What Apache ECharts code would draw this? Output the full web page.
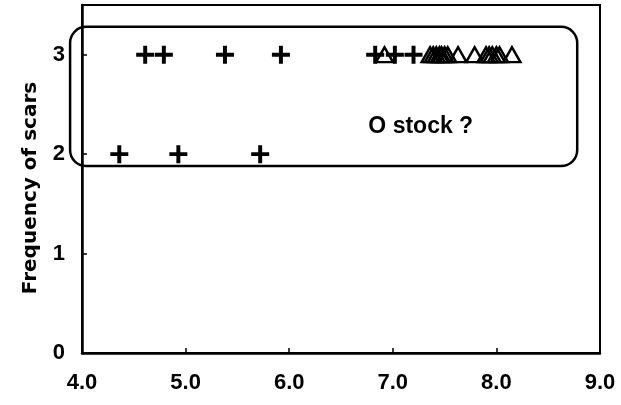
<!DOCTYPE html>
<html>
<head>
<meta charset="utf-8">
<script src="https://cdn.jsdelivr.net/npm/echarts@6/dist/echarts.min.js"></script>
<style>html,body{margin:0;padding:0;background:#fff;}#c{width:621px;height:405px;}</style>
</head>
<body>
<div id="c"></div>
<script>
// Data
const crossAt2 = [4.36, 4.93, 5.72];
const crossAt3 = [4.61, 4.79, 5.38, 5.92, 6.83, 7.02, 7.20];
const triAt3 = [6.92, 7.36, 7.39, 7.42, 7.45, 7.47, 7.50, 7.53, 7.63, 7.79, 7.90, 7.93, 7.96, 8.00, 8.03, 8.15];
const xTicks = [4, 5, 6, 7, 8, 9];
const yTicks = [0, 1, 2, 3];
const boxCorners = [[3.885, 3.28], [8.78, 1.88]]; // annotation box, data coords
const noteAt = [7.27, 2.28];
const noteText = 'O stock ?';
const yTitle = 'Frequency of scars';

const FONT = '"Liberation Sans", Arial, sans-serif';
const FONT2 = '"DejaVu Sans", sans-serif';
const plusPath = 'path://M3.9,0H6.1V3.9H10V6.1H6.1V10H3.9V6.1H0V3.9H3.9Z';

const chart = echarts.init(document.getElementById('c'), null, {renderer: 'canvas'});
const option = {
  animation: false,
  backgroundColor: '#fff',
  grid: {left: 82, right: 21, top: 5, bottom: 52, show: true, borderColor: '#000', borderWidth: 2, backgroundColor: 'transparent'},
  xAxis: {
    type: 'value', min: xTicks[0], max: xTicks[xTicks.length - 1], interval: 1,
    axisLine: {lineStyle: {color: '#000', width: 2.5}},
    axisTick: {inside: true, length: 5, lineStyle: {color: '#000', width: 1.5}},
    splitLine: {show: false},
    axisLabel: {color: '#000', fontFamily: FONT, fontWeight: 'bold', fontSize: 22, margin: 19,
      formatter: v => v.toFixed(1)}
  },
  yAxis: {
    type: 'value', min: 0, max: 3.5, interval: 1,
    axisLine: {lineStyle: {color: '#000', width: 2.5}},
    axisTick: {inside: true, length: 5, lineStyle: {color: '#000', width: 1.5}},
    splitLine: {show: false},
    axisLabel: {color: '#000', fontFamily: FONT, fontWeight: 'bold', fontSize: 22, margin: 17,
      showMaxLabel: false,
      formatter: v => (yTicks.indexOf(v) >= 0 ? String(v) : '')}
  },
  series: [
    {type: 'scatter', symbol: plusPath, symbolSize: 18, itemStyle: {color: '#000', opacity: 1},
      data: crossAt2.map(x => [x, 2]), z: 3},
    {type: 'scatter', symbol: plusPath, symbolSize: 18, itemStyle: {color: '#000', opacity: 1},
      data: crossAt3.map(x => [x, 3]), z: 3},
    {type: 'scatter', symbol: 'triangle', symbolSize: [17, 15],
      itemStyle: {color: 'rgba(0,0,0,0)', borderColor: '#000', borderWidth: 2.4, opacity: 1},
      data: triAt3.map(x => [x, 3]), z: 4}
  ]
};
chart.setOption(option);

const p1 = chart.convertToPixel({gridIndex: 0}, boxCorners[0]);
const p2 = chart.convertToPixel({gridIndex: 0}, boxCorners[1]);
const pn = chart.convertToPixel({gridIndex: 0}, noteAt);
chart.setOption({
  graphic: [
    {type: 'rect', shape: {x: p1[0], y: p1[1], width: p2[0] - p1[0], height: p2[1] - p1[1], r: 16},
      style: {fill: 'none', stroke: '#000', lineWidth: 2.5}, z: 10},
    {type: 'text', x: pn[0], y: pn[1],
      style: {text: noteText, fill: '#000', font: 'bold 23px ' + FONT, textAlign: 'center', textVerticalAlign: 'middle'}, z: 10},
    {type: 'text', x: 31, y: 188, rotation: Math.PI / 2,
      style: {text: yTitle, fill: '#000', font: 'bold 20px ' + FONT2, textAlign: 'center', textVerticalAlign: 'middle'}, z: 10}
  ]
});
</script>
</body>
</html>
